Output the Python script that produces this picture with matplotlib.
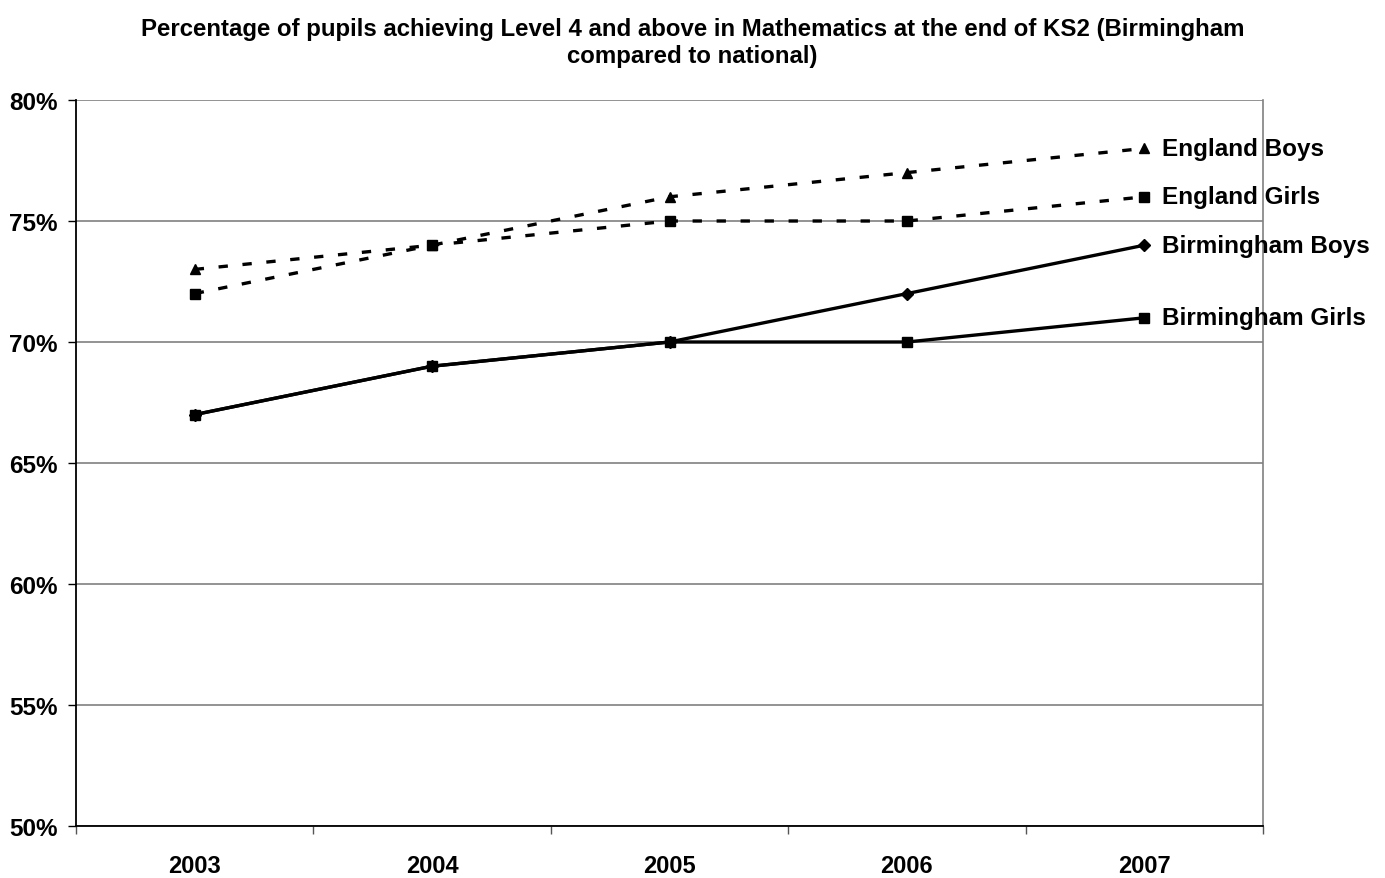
import matplotlib
matplotlib.use("Agg")
import matplotlib.pyplot as plt
from matplotlib.ticker import FixedLocator, PercentFormatter

plt.rcParams['font.family'] = ['Liberation Sans', 'DejaVu Sans']

years = ["2003", "2004", "2005", "2006", "2007"]
england_boys = [73, 74, 76, 77, 78]
england_girls = [72, 74, 75, 75, 76]
birmingham_boys = [67, 69, 70, 72, 74]
birmingham_girls = [67, 69, 70, 70, 71]

series = [
    ("England Boys", england_boys, (0, (2.8, 4.4)), "^", 7.5),
    ("England Girls", england_girls, (0, (2.8, 4.4)), "s", 7.5),
    ("Birmingham Boys", birmingham_boys, "-", "D", 6),
    ("Birmingham Girls", birmingham_girls, "-", "s", 7.5),
]

fig = plt.figure(figsize=(13.85, 8.79), dpi=100)
ax = fig.add_axes([76/1385, 1-827/879, (1263-76)/1385, (827-101)/879])

x = [i + 0.5 for i in range(len(years))]
for name, vals, ls, mk, ms in series:
    ax.plot(x, vals, color="black", linestyle=ls, linewidth=2.4, marker=mk,
            markersize=ms, zorder=3, clip_on=False)
    ax.annotate(name, (x[-1], vals[-1]), xytext=(13, 0), textcoords="offset points",
                va="center", ha="left", fontsize=17.5, fontweight="bold", zorder=4)

ax.set_xlim(0, len(years))
ax.set_ylim(50, 80)
ax.yaxis.set_major_locator(FixedLocator([50, 55, 60, 65, 70, 75, 80]))
ax.yaxis.set_major_formatter(PercentFormatter(decimals=0))
ax.grid(axis="y", color="#808080", linewidth=1.2, zorder=0)
ax.set_axisbelow(True)

ax.set_xticks(range(len(years) + 1))
ax.set_xticklabels([])
ax.set_xticks(x, minor=True)
ax.set_xticklabels(years, minor=True)
ax.tick_params(axis="x", which="minor", length=0, pad=20, labelsize=17)
ax.tick_params(axis="x", which="major", length=6, width=1, color="#555555", direction="out")
ax.tick_params(axis="y", length=6, width=1, direction="out", labelsize=17.5, pad=7)
for lbl in ax.get_xticklabels(minor=True) + ax.get_yticklabels():
    lbl.set_fontweight("bold")

ax.spines["left"].set_color("black")
ax.spines["bottom"].set_color("black")
ax.spines["left"].set_linewidth(1.3)
ax.spines["bottom"].set_linewidth(1.3)
ax.spines["right"].set_color("#808080")
ax.spines["right"].set_linewidth(1.2)
ax.spines["top"].set_visible(False)

fig.text(0.5, 1 - 43/879,
         "Percentage of pupils achieving Level 4 and above in Mathematics at the end of KS2 (Birmingham\ncompared to national)",
         ha="center", va="center", fontsize=17.3, fontweight="bold", linespacing=1.25)

fig.savefig("out.png", dpi=100, facecolor="white")
